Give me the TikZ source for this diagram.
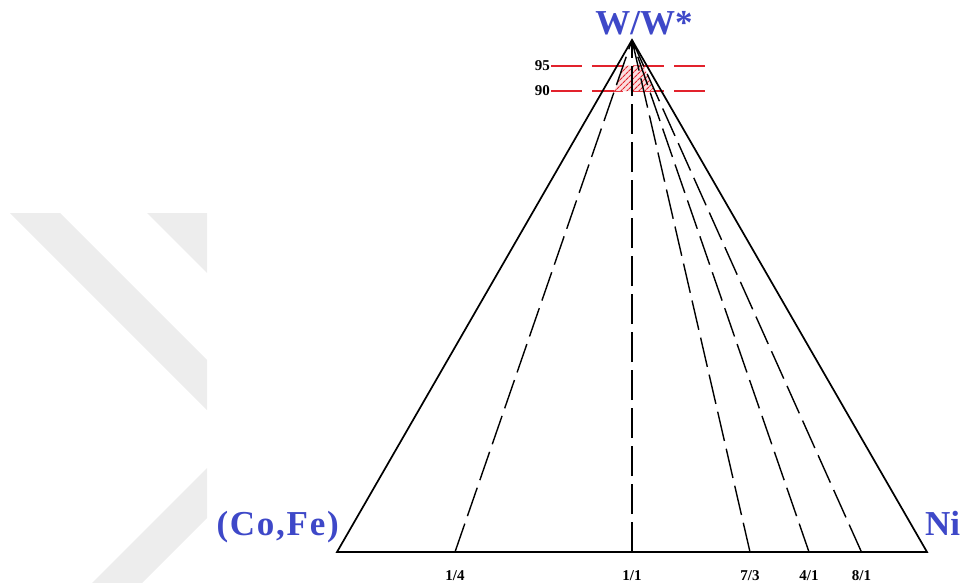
\documentclass[tikz,border=0pt]{standalone}
\usepackage{fontspec}
\setmainfont{Liberation Serif}
\usetikzlibrary{calc, patterns.meta}

\definecolor{labblue}{RGB}{62,72,200}
\definecolor{limred}{RGB}{226,34,44}
\definecolor{wmgray}{RGB}{237,237,237}

\begin{document}
\begin{tikzpicture}[
    x=1pt, y=-1pt,
    corner/.style={font=\fontsize{35}{40}\selectfont\bfseries, text=labblue,
                   inner sep=0pt},
    ratio/.style={font=\fontsize{15}{18}\selectfont\bfseries, inner sep=0pt,
                  anchor=base},
    level/.style={font=\fontsize{15}{18}\selectfont\bfseries, inner sep=1pt,
                  anchor=east},
    side/.style={draw=black, line width=1.7pt, line join=miter},
    tieline/.style={draw=black, line width=1.4pt, dash pattern=on 30pt off 8pt},
    limline/.style={draw=limred, line width=1.5pt, dash pattern=on 31pt off 10pt},
    hatch/.style={pattern={Lines[angle=45, distance=4pt, line width=1.1pt]},
                  pattern color=limred},
    wmark/.style={fill=wmgray, draw=none}
  ]
  \useasboundingbox (0,0) rectangle (977,583);

  % faint watermark on the left
  \fill[wmark] (10,213) -- (60,213) -- (207,360) -- (207,410) -- cycle;
  \fill[wmark] (147,213) -- (207,213) -- (207,273) -- cycle;
  \fill[wmark] (92,583) -- (207,468) -- (207,518) -- (142,583) -- cycle;

  % corners of the section
  \coordinate (W) at (632,40);
  \coordinate (C) at (337,552);
  \coordinate (N) at (927,552);

  % Ni/(Co,Fe) ratios on the base
  \coordinate (p14) at ($(C)!0.2!(N)$);
  \coordinate (p11) at ($(C)!0.5!(N)$);
  \coordinate (p73) at ($(C)!0.7!(N)$);
  \coordinate (p41) at ($(C)!0.8!(N)$);
  \coordinate (p81) at ($(C)!0.8889!(N)$);

  \node[corner, anchor=base]      (lW) at (644,35)  {W/W*};
  \node[corner, anchor=base east] (lC) at (339,535)
       {\addfontfeature{LetterSpace=5}(Co,Fe)};
  \node[corner, anchor=base west] (lN) at (925,535) {Ni};

  \node[ratio] (t14) at ($(p14)+(0,28)$) {1/4};
  \node[ratio] (t11) at ($(p11)+(0,28)$) {1/1};
  \node[ratio] (t73) at ($(p73)+(0,28)$) {7/3};
  \node[ratio] (t41) at ($(p41)+(0,28)$) {4/1};
  \node[ratio] (t81) at ($(p81)+(0,28)$) {8/1};

  % 90--95 wt.% W window
  \node[level] (l95) at (551,66) {95};
  \node[level] (l90) at (551,91) {90};
  \coordinate (e95) at (712,66);
  \coordinate (e90) at (712,91);
  \draw[limline] (l95.east) -- (e95);
  \draw[limline] (l90.east) -- (e90);

  \fill[limred!15] ($(W)!0.05!(p14)$) -- ($(W)!0.05!(p81)$)
            -- ($(W)!0.1!(p81)$) -- ($(W)!0.1!(p14)$) -- cycle;
  \fill[hatch] ($(W)!0.05!(p14)$) -- ($(W)!0.05!(p81)$)
            -- ($(W)!0.1!(p81)$) -- ($(W)!0.1!(p14)$) -- cycle;

  % constant ratio sections
  \draw[tieline] (p14) -- (W);
  \draw[tieline] (p11) -- (W);
  \draw[tieline] (p73) -- (W);
  \draw[tieline] (p41) -- (W);
  \draw[tieline] (p81) -- (W);

  \draw[side] (C) -- (W) -- (N) -- cycle;

\end{tikzpicture}
\end{document}
